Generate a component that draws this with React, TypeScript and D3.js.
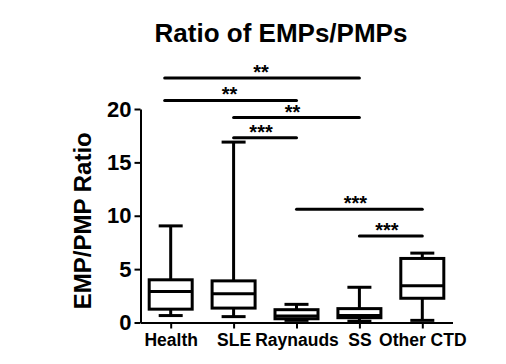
import { useEffect, useRef } from 'react';
import * as d3 from 'd3';

const groups = ['Health', 'SLE', 'Raynauds', 'SS', 'Other CTD'];
// min, q1, median, q3, max
const whiskerMin = [0.65, 0.55, 0.2, 0.12, 0.2];
const quartile1 = [1.25, 1.35, 0.35, 0.45, 2.27];
const medians = [2.9, 2.7, 0.6, 0.65, 3.45];
const quartile3 = [4.0, 3.9, 1.2, 1.3, 6.0];
const whiskerMax = [9.05, 16.9, 1.7, 3.3, 6.5];

const yTicks = [0, 5, 10, 15, 20];

// significance brackets: from group, to group, height in y units, label
const sigFrom = ['Health', 'Health', 'SLE', 'SLE', 'Raynauds', 'SS'];
const sigTo = ['SS', 'Raynauds', 'SS', 'Raynauds', 'Other CTD', 'Other CTD'];
const sigLevel = [22.9, 20.8, 19.2, 17.3, 10.6, 8.1];
const sigLabel = ['**', '**', '**', '***', '***', '***'];

export default function App() {
  const svgRef = useRef<SVGSVGElement>(null);

  useEffect(() => {
    if (!svgRef.current) return;
    const width = 506;
    const height = 364;
    const svg = d3.select(svgRef.current);
    svg.selectAll('*').remove();
    svg.attr('width', width).attr('height', height).style('font-family', 'Arial, "Liberation Sans", sans-serif');

    const left = 140.5;
    const right = 452.5;
    const x = d3.scalePoint<string>().domain(groups).range([left, right]).padding(0.48);
    const y = d3.scaleLinear().domain([0, 20]).range([322.5, 109]);

    svg.append('text')
      .attr('x', 281)
      .attr('y', 42)
      .attr('text-anchor', 'middle')
      .attr('font-size', 26)
      .attr('font-weight', 'bold')
      .text('Ratio of EMPs/PMPs');

    // y axis
    const yAxis = svg.append('g').attr('transform', `translate(${left},0)`)
      .call(d3.axisLeft(y).tickValues(yTicks).tickSize(6).tickPadding(3).tickSizeOuter(0));
    yAxis.select('.domain').attr('stroke', '#000').attr('stroke-width', 2);
    yAxis.selectAll('.tick line').attr('stroke', '#000').attr('stroke-width', 2);
    yAxis.selectAll('.tick text')
      .attr('font-size', 22)
      .attr('font-weight', 'bold')
      .attr('fill', '#000')
      .attr('font-family', 'Arial, "Liberation Sans", sans-serif');

    // x axis
    const xAxis = svg.append('g').attr('transform', `translate(0,${y(0)})`)
      .call(d3.axisBottom(x).tickSize(6).tickPadding(5).tickSizeOuter(0));
    xAxis.select('.domain').attr('stroke', '#000').attr('stroke-width', 2);
    xAxis.selectAll('.tick line').attr('stroke', '#000').attr('stroke-width', 2);
    xAxis.selectAll('.tick text')
      .attr('font-size', 17.5)
      .attr('font-weight', 'bold')
      .attr('fill', '#000')
      .attr('font-family', 'Arial, "Liberation Sans", sans-serif');

    svg.append('text')
      .attr('transform', `translate(91,${(y(0) + y(20)) / 2 + 5}) rotate(-90)`)
      .attr('text-anchor', 'middle')
      .attr('font-size', 24)
      .attr('font-weight', 'bold')
      .text('EMP/PMP Ratio');

    const boxW = 43;
    const capW = 24;
    const g = svg.append('g').attr('stroke', '#000').attr('stroke-width', 3).attr('fill', 'none');
    groups.forEach((name, i) => {
      const cx = x(name) as number;
      g.append('line').attr('x1', cx).attr('x2', cx).attr('y1', y(whiskerMax[i])).attr('y2', y(quartile3[i]));
      g.append('line').attr('x1', cx).attr('x2', cx).attr('y1', y(quartile1[i])).attr('y2', y(whiskerMin[i]));
      g.append('line').attr('x1', cx - capW / 2).attr('x2', cx + capW / 2).attr('y1', y(whiskerMax[i])).attr('y2', y(whiskerMax[i]));
      g.append('line').attr('x1', cx - capW / 2).attr('x2', cx + capW / 2).attr('y1', y(whiskerMin[i])).attr('y2', y(whiskerMin[i]));
      g.append('rect')
        .attr('x', cx - boxW / 2)
        .attr('y', y(quartile3[i]))
        .attr('width', boxW)
        .attr('height', y(quartile1[i]) - y(quartile3[i]))
        .attr('fill', '#fff');
      g.append('line').attr('x1', cx - boxW / 2).attr('x2', cx + boxW / 2).attr('y1', y(medians[i])).attr('y2', y(medians[i]));
    });

    const sig = svg.append('g');
    sigLabel.forEach((lab, i) => {
      const x1 = x(sigFrom[i]) as number;
      const x2 = x(sigTo[i]) as number;
      const yy = y(sigLevel[i]);
      sig.append('line')
        .attr('x1', i < 2 ? x1 - 6 : x1)
        .attr('x2', x2)
        .attr('y1', yy)
        .attr('y2', yy)
        .attr('stroke', '#000')
        .attr('stroke-width', 3)
        .attr('stroke-linecap', 'round');
      sig.append('text')
        .attr('x', (x1 + x2) / 2 - 4)
        .attr('y', yy + 1)
        .attr('text-anchor', 'middle')
        .attr('font-size', 20)
        .attr('font-weight', 'bold')
        .text(lab);
    });
  }, []);

  return (
    <svg ref={svgRef} style={{ position: 'absolute', left: 0, top: 0, background: '#fff' }} />
  );
}
